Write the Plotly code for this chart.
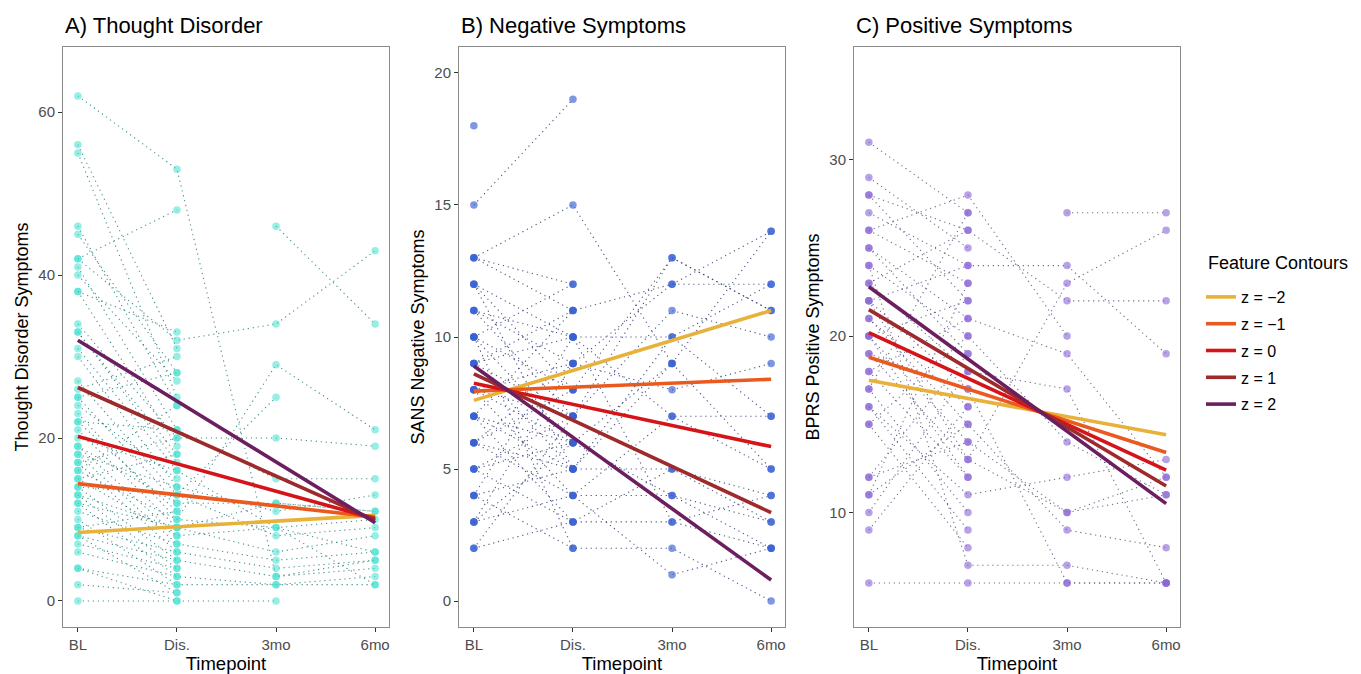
import plotly.graph_objects as go

timepoints = ["BL", "Dis.", "3mo", "6mo"]
z_labels = ["z = \u22122", "z = \u22121", "z = 0", "z = 1", "z = 2"]
z_colors = ["#E8B23A", "#EA5A1F", "#D5141A", "#9E2A2C", "#6C1F5E"]

# ---------------- Panel A: Thought Disorder ----------------
A_bl  = [62, 56, 55, 46, 45, 42, 42, 41, 40, 38, 38, 34, 33, 33, 31, 30, 27, 26, 25, 24, 23, 22, 22, 21, 19, 18, 18, 17, 16, 15, 14, 14, 13, 12, 12, 11, 10, 9, 9, 8, 8, 7, 6, 4, 4, 2, 0, None, 20, 19, 15, 17, 16, 25, 13]
A_dis = [53, 31, 25, 24, 28, 48, 32, 21, 27, 19, 33, 20, 18, 17, 16, 14, 13, 30, 12, 15, 10, 11, 21, 9, 12, 7, 14, 6, 10, 8, 5, 13, 4, 9, 3, 7, 2, 6, 11, 1, 5, 4, 3, 2, 0, 1, 0, None, 16, 8, 18, 20, 24, 28, 9]
A_3mo = [3, None, None, None, None, None, 34, None, None, None, None, 20, None, None, None, None, 25, None, None, None, 29, None, 15, None, 12, None, 11, None, 9, None, None, 8, None, 6, None, 5, None, 4, None, None, 3, None, 2, 2, None, None, 0, 46, None, 9, None, None, None, None, 12]
A_6mo = [5, None, None, None, None, None, 43, None, None, None, None, 19, None, None, None, None, None, None, None, None, 21, None, 15, None, 11, None, 13, None, 10, None, None, 9, None, 8, None, 6, None, 5, None, None, 4, None, 3, 2, None, None, None, 34, 2, 6, None, None, None, None, 11]
A_fit_bl  = [8.4, 14.4, 20.2, 26.2, 32.0]
A_fit_6mo = [10.5, 10.3, 10.1, 9.9, 9.6]

# ---------------- Panel B: Negative Symptoms ----------------
B_bl  = [18, 15, 13, 13, 13, 12, 12, 11, 11, 10, 10, 10, 9, 9, 9, 8, 8, 8, 7, 7, 7, 6, 6, 6, 5, 5, 5, 4, 4, 4, 3, 3, 2, 2, 11, 12, 10, 8, 9, 7, 6, 3]
B_dis = [None, 19, 15, 12, 11, 10, 8, 9, 7, 12, 6, 8, 10, 5, 7, 9, 6, 4, 11, 5, 3, 8, 4, 9, 7, 3, 6, 5, 2, 10, 6, 4, 7, 3, 10, 5, 2, 7, 11, 6, 5, 9]
B_3mo = [None, None, 9, None, 12, None, 13, None, 11, None, None, None, 10, None, None, 8, None, 7, None, 5, None, None, 4, 12, None, 3, 9, None, 2, 7, None, 1, None, 5, 3, 9, None, 13, None, 4, 10, None]
B_6mo = [None, None, 5, None, 14, None, 11, None, 10, None, None, None, 12, None, None, 9, None, 7, None, 4, None, None, 3, 12, None, 2, 14, None, 0, 5, None, 2, None, 3, 4, None, None, 11, None, 2, 7, None]
B_fit_bl  = [7.6, 7.95, 8.25, 8.6, 8.9]
B_fit_6mo = [11.0, 8.4, 5.85, 3.35, 0.8]

# ---------------- Panel C: Positive Symptoms ----------------
C_bl  = [31, 29, 28, 28, 27, 26, 26, 25, 25, None, 24, 23, 23, 22, 22, 21, 21, 20, 20, 19, 18, 18, 17, 16, 16, 15, 15, 12, 12, 11, 11, 10, 9, 6, 24, 22, 20, 19, 17]
C_dis = [27, 25, 26, 22, 24, 28, 23, 21, 19, None, 20, 26, 18, 17, 24, 16, 15, 22, 14, 13, 12, 21, 10, 11, 9, 20, 8, 14, 19, 15, 23, 18, 16, 6, 7, 13, 12, 17, 27]
C_3mo = [None, None, None, None, None, 20, None, None, None, 27, None, 22, None, None, 24, None, None, None, None, 23, None, 19, None, 12, None, 14, None, 10, None, 9, None, 17, None, 6, 7, 10, None, 6, None]
C_6mo = [None, None, None, None, None, None, None, None, None, 27, None, 22, None, None, 19, None, None, None, None, 26, None, 12, None, 13, None, 11, None, 12, None, 8, None, 6, None, 6, 6, 11, None, 6, None]
C_fit_bl  = [17.5, 18.8, 20.2, 21.5, 22.8]
C_fit_6mo = [14.4, 13.4, 12.4, 11.5, 10.5]

panels = [
    dict(bl=A_bl, dis=A_dis, m3=A_3mo, m6=A_6mo, fb=A_fit_bl, f6=A_fit_6mo,
         pt="rgba(64,224,208,0.55)", ln="rgba(35,125,120,0.85)",
         title="A) Thought Disorder", ytitle="Thought Disorder Symptoms",
         yrange=[-3.2, 68], ytick=[0, 20, 40, 60], xdom=[63, 389]),
    dict(bl=B_bl, dis=B_dis, m3=B_3mo, m6=B_6mo, fb=B_fit_bl, f6=B_fit_6mo,
         pt="rgba(55,95,210,0.65)", ln="rgba(45,55,110,0.85)",
         title="B) Negative Symptoms", ytitle="SANS Negative Symptoms",
         yrange=[-0.98, 20.98], ytick=[0, 5, 10, 15, 20], xdom=[459, 785]),
    dict(bl=C_bl, dis=C_dis, m3=C_3mo, m6=C_6mo, fb=C_fit_bl, f6=C_fit_6mo,
         pt="rgba(137,100,215,0.6)", ln="rgba(85,80,120,0.85)",
         title="C) Positive Symptoms", ytitle="BPRS Positive Symptoms",
         yrange=[3.5, 36.4], ytick=[10, 20, 30], xdom=[854, 1180]),
]

W, H = 1361, 674
y_top, y_bot = 47, 627
FONT = "Liberation Sans, Arial, Helvetica, sans-serif"

fig = go.Figure()
layout = dict(
    width=W, height=H, margin=dict(l=0, r=0, t=0, b=0),
    paper_bgcolor="white", plot_bgcolor="white",
    font=dict(family=FONT, color="black"),
    annotations=[],
)

for i, p in enumerate(panels):
    n = i + 1
    xa = "x" if n == 1 else f"x{n}"
    ya = "y" if n == 1 else f"y{n}"
    lx, ly, px_, py_ = [], [], [], []
    for vals in zip(p["bl"], p["dis"], p["m3"], p["m6"]):
        seg = [(t, v) for t, v in enumerate(vals) if v is not None]
        for t, v in seg:
            px_.append(t)
            py_.append(v)
        if len(seg) > 1:
            lx += [t for t, _ in seg] + [None]
            ly += [v for _, v in seg] + [None]
    fig.add_trace(go.Scatter(x=lx, y=ly, mode="lines", xaxis=xa, yaxis=ya,
                             line=dict(color=p["ln"], width=1.1, dash="1.2px,3.8px"),
                             showlegend=False, hoverinfo="skip"))
    fig.add_trace(go.Scatter(x=px_, y=py_, mode="markers", xaxis=xa, yaxis=ya,
                             marker=dict(color=p["pt"], size=7.5, line=dict(width=0)),
                             showlegend=False))
    for k in range(5):
        fig.add_trace(go.Scatter(x=[0, 3], y=[p["fb"][k], p["f6"][k]], mode="lines",
                                 xaxis=xa, yaxis=ya,
                                 line=dict(color=z_colors[k], width=3.6),
                                 name=z_labels[k], legendgroup=z_labels[k],
                                 showlegend=(n == 1)))
    x0, x1 = p["xdom"]
    axis_common = dict(showline=True, mirror=True, linecolor="#8a8a8a", linewidth=1,
                       ticks="outside", ticklen=4, tickcolor="#333333", tickwidth=1,
                       showgrid=False, zeroline=False,
                       tickfont=dict(size=15, color="#4D4D4D", family=FONT))
    layout["xaxis" if n == 1 else f"xaxis{n}"] = dict(
        axis_common, domain=[x0 / W, x1 / W], anchor=ya, range=[-0.15, 3.14],
        tickvals=[0, 1, 2, 3], ticktext=timepoints,
        title=dict(text="Timepoint", font=dict(size=18.5, family=FONT), standoff=3))
    layout["yaxis" if n == 1 else f"yaxis{n}"] = dict(
        axis_common, domain=[1 - y_bot / H, 1 - y_top / H], anchor=xa,
        range=p["yrange"], tickvals=p["ytick"],
        title=dict(text=p["ytitle"], font=dict(size=18, family=FONT), standoff=5))
    layout["annotations"].append(dict(
        text=p["title"], x=x0 / W, y=1 - 25 / H, xref="paper", yref="paper",
        xanchor="left", yanchor="middle", showarrow=False,
        font=dict(size=22, family=FONT, color="black")))

layout["annotations"].append(dict(
    text="Feature Contours", x=1206 / W, y=1 - 263 / H, xref="paper", yref="paper",
    xanchor="left", yanchor="middle", showarrow=False,
    font=dict(size=18, family=FONT, color="black")))
layout["legend"] = dict(
    x=1201 / W, y=1 - 280 / H, xanchor="left", yanchor="top",
    font=dict(size=16, family=FONT), itemwidth=30, tracegroupgap=3,
    bgcolor="rgba(0,0,0,0)")
fig.update_layout(**layout)

fig.write_html("out.html", config={"displayModeBar": False},
               post_script="document.body.style.margin='0';document.body.style.overflow='hidden';")
